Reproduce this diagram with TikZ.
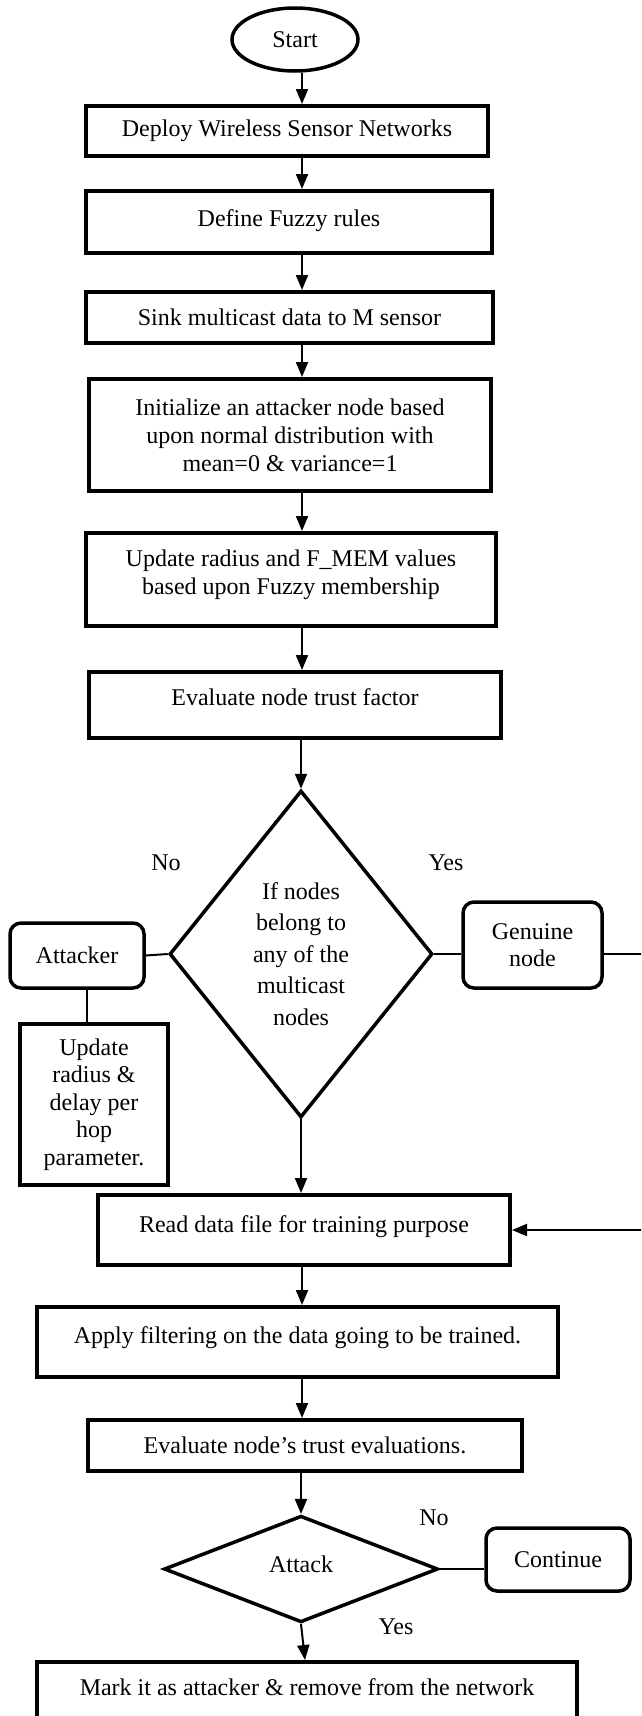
\documentclass[tikz,border=0pt]{standalone}
\usepackage{fontspec}
\setmainfont{Liberation Serif}
\usetikzlibrary{shapes.geometric,arrows.meta}

\tikzset{
  every node/.style={font=\fontsize{24}{28}\selectfont},
  stepbox/.style={draw, line width=4pt, rectangle, inner sep=0pt, align=center},
  roundbox/.style={draw, line width=3.5pt, rounded corners=11pt, inner sep=0pt, align=center},
  decision/.style={draw, line width=3.5pt, diamond, aspect=0.8, inner sep=0pt, align=center},
  startend/.style={draw, line width=3.5pt, ellipse, inner sep=0pt},
  flow/.style={line width=2pt, -{Triangle[length=15pt,width=12pt]}},
  link/.style={line width=2pt},
  lift/.style={text depth=#1},
}

\begin{document}
\begin{tikzpicture}[x=1pt, y=-1pt]

  \useasboundingbox (0,0) rectangle (641,1716);
  \clip (0,0) rectangle (641,1716);
  \fill[white] (0,0) rectangle (641,1716);

  % The main column of steps
  \node[startend, minimum width=126pt, minimum height=63pt] (start) at (295, 39.5) {Start};
  \node[stepbox, minimum width=402pt, minimum height=50pt] (deploy) at (287, 131) {Deploy Wireless Sensor Networks};
  \node[stepbox, minimum width=406pt, minimum height=62pt, lift=8pt] (rules) at (289, 222) {Define Fuzzy rules};
  \node[stepbox, minimum width=407pt, minimum height=51pt] (sink) at (289.5, 317.5) {Sink multicast data to M sensor};
  \node[stepbox, minimum width=402pt, minimum height=112pt] (init) at (290, 435)
    {Initialize an attacker node based\\upon normal distribution with\\mean=0 \& variance=1};
  \node[stepbox, minimum width=410pt, minimum height=93pt, lift=14pt] (update) at (291, 579.5)
    {Update radius and F\_MEM values\\based upon Fuzzy membership};
  \node[stepbox, minimum width=412pt, minimum height=66pt, lift=16pt] (trust) at (295, 705) {Evaluate node trust factor};

  % The membership test
  \node[decision, minimum width=263pt, minimum height=327pt, font=\fontsize{24}{31.5}\selectfont] (member) at (301, 954)
    {If nodes\\belong to\\any of the\\multicast\\nodes};
  \node (no1) at (166, 863) {No};
  \node (yes1) at (446, 863) {Yes};
  \node[roundbox, minimum width=134pt, minimum height=65pt] (attacker) at (77, 955.5) {Attacker};
  \node[stepbox, minimum width=148pt, minimum height=161pt, font=\fontsize{24}{27.5}\selectfont] (radius) at (94, 1104.5)
    {Update\\radius \&\\delay per\\hop\\parameter.};
  \node[roundbox, minimum width=139pt, minimum height=86pt, font=\fontsize{24}{27}\selectfont] (genuine) at (532.5, 945) {Genuine\\node};

  % Training and evaluation
  \node[stepbox, minimum width=412pt, minimum height=70pt, lift=12pt] (read) at (304, 1230) {Read data file for training purpose};
  \node[stepbox, minimum width=521pt, minimum height=70pt, lift=14pt] (filter) at (297.5, 1342) {Apply filtering on the data going to be trained.};
  \node[stepbox, minimum width=434pt, minimum height=51pt] (evals) at (305, 1445.5) {Evaluate node’s trust evaluations.};

  % The attack test
  \node[decision, minimum width=274pt, minimum height=105pt, lift=10pt] (attack) at (301, 1569) {Attack};
  \node (no2) at (434, 1518) {No};
  \node (yes2) at (396, 1627) {Yes};
  \node[roundbox, minimum width=144pt, minimum height=63pt] (cont) at (558, 1559.5) {Continue};
  \node[stepbox, minimum width=540pt, minimum height=70pt, lift=20pt] (mark) at (307, 1697) {Mark it as attacker \& remove from the network};

  % Connectors
  \coordinate (col) at (302, 0);
  \coordinate (back) at (648, 0);
  \draw[flow] (col |- start.south) -- (col |- deploy.north);
  \draw[flow] (col |- deploy.south) -- (col |- rules.north);
  \draw[flow] (col |- rules.south) -- (col |- sink.north);
  \draw[flow] (col |- sink.south) -- (col |- init.north);
  \draw[flow] (col |- init.south) -- (col |- update.north);
  \draw[flow] (col |- update.south) -- (col |- trust.north);
  \draw[flow] (member.north |- trust.south) -- (member.north);
  \draw[flow] (member.south) -- (member.south |- read.north);
  \draw[flow] (col |- read.south) -- (col |- filter.north);
  \draw[flow] (col |- filter.south) -- (col |- evals.north);
  \draw[flow] (attack.north |- evals.south) -- (attack.north);
  \draw[flow] (attack.south) -- ([xshift=4pt]attack.south |- mark.north);

  \draw[link] (member.west) -- (attacker.east);
  \draw[link] ([xshift=10pt]attacker.south) -- ([xshift=10pt]attacker.south |- radius.north);
  \draw[link] (member.east) -- (member.east -| genuine.west);
  \draw[flow] (member.east -| genuine.east) -- (member.east -| back) -- (back |- read.east) -- (read.east);
  \draw[link] (attack.east) -- (attack.east -| cont.west);

\end{tikzpicture}
\end{document}
